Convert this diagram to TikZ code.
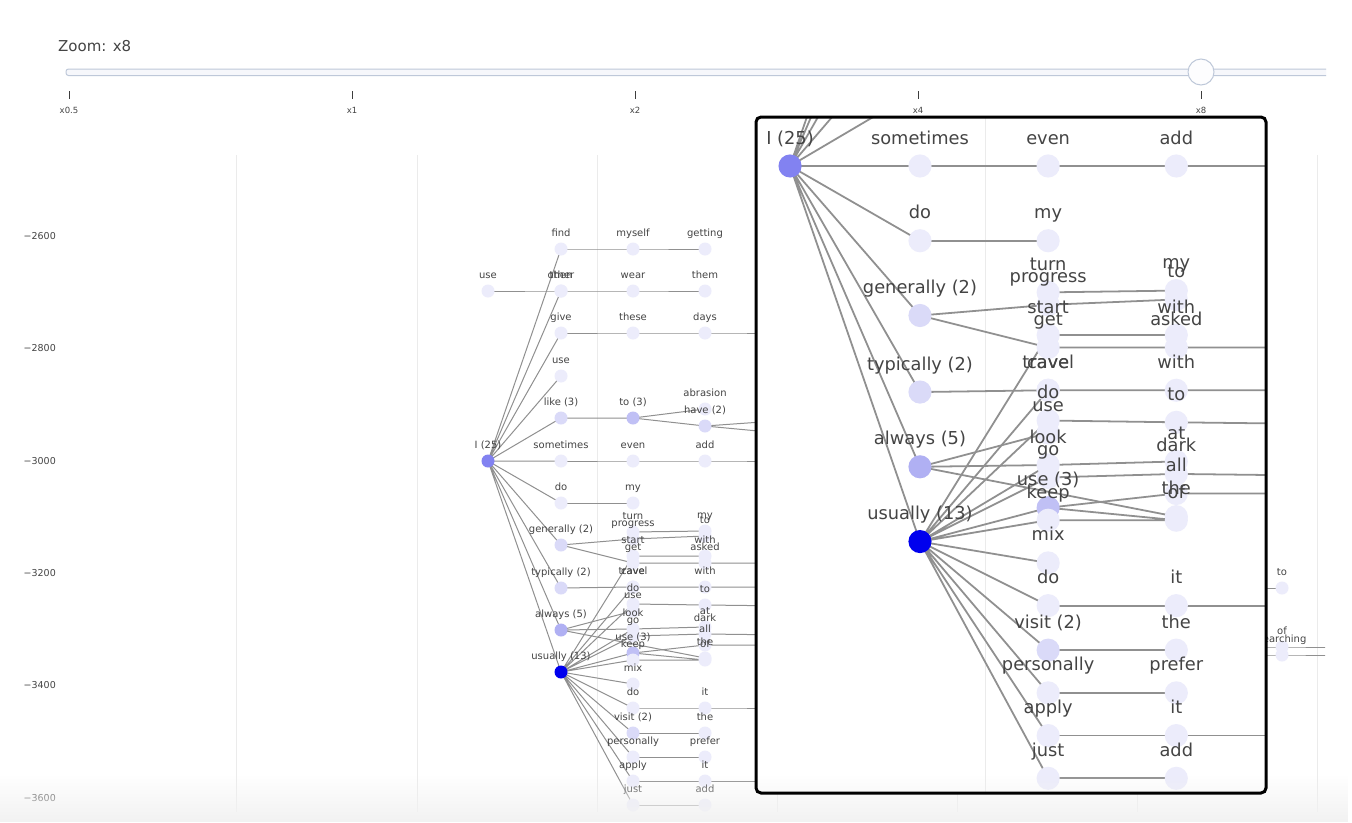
\documentclass[tikz,border=0pt]{standalone}
\usepackage{fontspec}
\setmainfont{DejaVu Sans}
\usetikzlibrary{fadings}
\definecolor{txt}{HTML}{444444}
\definecolor{edgec}{HTML}{909090}
\definecolor{gridc}{HTML}{EBEBEB}
\definecolor{cA}{HTML}{ECECFB}
\definecolor{cB}{HTML}{DADAF8}
\definecolor{cC}{HTML}{C0C0F5}
\definecolor{cD}{HTML}{B0B0F3}
\definecolor{cI}{HTML}{8282F1}
\definecolor{cU}{HTML}{0000EE}
\definecolor{track}{HTML}{BEC8D9}
\definecolor{trackfill}{HTML}{F6F7FB}
\tikzset{
  gdot/.style={circle, minimum size=13pt, inner sep=0pt, draw=none},
  glbl/.style={font=\fontsize{10}{12}\selectfont, text=txt, inner sep=0pt, text height=7.5pt, text depth=2.2pt},
  gedge/.style={draw=edgec, line width=1pt},
  gridline/.style={draw=gridc, line width=1pt},
  ylbl/.style={font=\fontsize{9.5}{11}\selectfont, text=txt, inner sep=0pt, anchor=east},
  ticklbl/.style={font=\fontsize{8.5}{10}\selectfont, text=txt, inner sep=0pt},
  tickmark/.style={draw=txt!90!black, line width=0.9pt}
}
\newcommand\NL{%
 \G{find}{561}{249}{cA}{find}
 \G{myself}{633}{249}{cA}{myself}
 \G{getting}{705}{249}{cA}{getting}
 \G{usezero}{488}{291}{cA}{use}
 \G{other}{561}{291}{cA}{other}
 \G{then}{561}{291}{cA}{then}
 \G{wear}{633}{291}{cA}{wear}
 \G{them}{705}{291}{cA}{them}
 \G{give}{561}{333}{cA}{give}
 \G{these}{633}{333}{cA}{these}
 \G{days}{705}{333}{cA}{days}
 \G{useone}{561}{376}{cA}{use}
 \G{like}{561}{418}{cB}{like (3)}
 \G{tothree}{633}{418}{cC}{to (3)}
 \G{abrasion}{705}{409}{cA}{abrasion}
 \G{have}{705}{426}{cB}{have (2)}
 \G{root}{488}{461}{cI}{I (25)}
 \G{sometimes}{561}{461}{cA}{sometimes}
 \G{even}{633}{461}{cA}{even}
 \G{adda}{705}{461}{cA}{add}
 \G{doa}{561}{503}{cA}{do}
 \G{mya}{633}{503}{cA}{my}
 \G{generally}{561}{545}{cB}{generally (2)}
 \G{typically}{561}{588}{cB}{typically (2)}
 \G{always}{561}{630}{cD}{always (5)}
 \G{usually}{561}{672}{cU}{usually (13)}
 \G{turn}{633}{532}{cA}{turn}
 \G{progress}{633}{539}{cA}{progress}
 \G{start}{633}{556}{cA}{start}
 \G{get}{633}{563}{cA}{get}
 \G{travel}{633}{587}{cA}{travel}
 \G{cave}{633}{587}{cA}{cave}
 \G{dob}{633}{604}{cA}{do}
 \G{useb}{633}{611}{cA}{use}
 \G{look}{633}{629}{cA}{look}
 \G{go}{633}{636}{cA}{go}
 \G{usec}{633}{653}{cC}{use (3)}
 \G{keep}{633}{660}{cA}{keep}
 \G{mix}{633}{684}{cA}{mix}
 \G{doc}{633}{708}{cA}{do}
 \G{visit}{633}{733}{cB}{visit (2)}
 \G{personally}{633}{757}{cA}{personally}
 \G{apply}{633}{781}{cA}{apply}
 \G{just}{633}{805}{cA}{just}
 \G{myb}{705}{531}{cA}{my}
 \G{tob}{705}{536}{cA}{to}
 \G{witha}{705}{556}{cA}{with}
 \G{asked}{705}{563}{cA}{asked}
 \G{withb}{705}{587}{cA}{with}
 \G{toc}{705}{605}{cA}{to}
 \G{atx}{705}{627}{cA}{at}
 \G{dark}{705}{634}{cA}{dark}
 \G{allx}{705}{645}{cA}{all}
 \G{thea}{705}{658}{cA}{the}
 \G{ofa}{705}{660}{cA}{of}
 \G{ita}{705}{708}{cA}{it}
 \G{theb}{705}{733}{cA}{the}
 \G{prefer}{705}{757}{cA}{prefer}
 \G{itb}{705}{781}{cA}{it}
 \G{addb}{705}{805}{cA}{add}
 \G{tod}{1282}{588}{cA}{to}
 \G{ofb}{1282}{647}{cA}{of}
 \G{searching}{1282}{655}{cA}{searching}
}
\newcommand\BC{%
 \coordinate (x-days) at (790,333);
 \coordinate (x-have1) at (790,420);
 \coordinate (x-have2) at (790,434);
 \coordinate (x-add) at (790,461);
 \coordinate (x-asked) at (790,563);
 \coordinate (x-withb) at (790,587);
 \coordinate (x-toc) at (790,606);
 \coordinate (x-dark) at (790,635);
 \coordinate (x-all) at (790,645);
 \coordinate (x-it) at (790,708);
 \coordinate (x-itb) at (790,781);
 \coordinate (h-to) at (1220,588);
 \coordinate (h-of) at (1220,647);
 \coordinate (h-se) at (1220,655);
 \coordinate (r-of) at (1330,647);
 \coordinate (r-se) at (1330,655);
}
\newcommand\drawgraph{%
 \def\G##1##2##3##4##5{\coordinate (##1) at (##2,##3);}%
 \NL\BC
 \draw[gedge] (root)--(find) (root)--(other) (root)--(then) (root)--(give)
   (root)--(useone) (root)--(like) (root)--(sometimes) (root)--(doa)
   (root)--(generally) (root)--(typically) (root)--(always) (root)--(usually);
 \draw[gedge] (find)--(myself)--(getting);
 \draw[gedge] (usezero)--(then)--(wear)--(them);
 \draw[gedge] (give)--(these)--(days)--(x-days);
 \draw[gedge] (like)--(tothree) (tothree)--(abrasion) (tothree)--(have)
   (have)--(x-have1) (have)--(x-have2);
 \draw[gedge] (sometimes)--(even)--(adda)--(x-add);
 \draw[gedge] (doa)--(mya);
 \draw[gedge] (generally)--(progress) (generally)--(get);
 \draw[gedge] (turn)--(myb) (progress)--(tob) (start)--(witha) (get)--(asked)--(x-asked);
 \draw[gedge] (typically)--(travel)--(withb)--(x-withb);
 \draw[gedge] (dob)--(toc)--(x-toc);
 \draw[gedge] (always)--(useb) (always)--(look)--(atx) (always)--(thea);
 \draw[gedge] (go)--(dark)--(x-dark);
 \draw[gedge] (usec)--(allx)--(x-all) (usec)--(ofa) (keep)--(ofa);
 \draw[gedge] (usually)--(start) (usually)--(cave) (usually)--(dob) (usually)--(look)
   (usually)--(go) (usually)--(usec) (usually)--(keep) (usually)--(mix)
   (usually)--(doc) (usually)--(visit) (usually)--(personally) (usually)--(apply)
   (usually)--(just);
 \draw[gedge] (doc)--(ita)--(x-it);
 \draw[gedge] (visit)--(theb) (personally)--(prefer) (apply)--(itb)--(x-itb) (just)--(addb);
 \draw[gedge] (h-to)--(tod) (h-of)--(ofb)--(r-of) (h-se)--(searching)--(r-se);
 \def\G##1##2##3##4##5{\node[gdot,fill=##4] (##1-n) at (##1) {};\node[glbl] (##1-t) at ([yshift=15pt]##1) {##5};}%
 \NL
}
\begin{document}
\begin{tikzpicture}[x=1pt,y=-1pt]
\useasboundingbox (0,0) rectangle (1352,822);
\fill[white] (0,0) rectangle (1352,822);
% slider
\node[anchor=base west, font=\fontsize{15}{18}\selectfont, text=txt, inner sep=0pt] (zoomlbl) at (58,51) {Zoom: x8};
\begin{scope}
\clip (0,0) rectangle (1326,822);
\draw[draw=track, fill=trackfill, line width=1pt, rounded corners=2.5pt] (66,69) rectangle (1370,75.5);
\end{scope}
\node[circle, draw=track, fill=white!97!track, line width=1pt, minimum size=26pt, inner sep=0pt] (handle) at (1201,72) {};
\foreach \xx/\tt [count=\k] in {69/x0.5, 352/x1, 635/x2, 918/x4, 1201/x8} {
  \draw[tickmark] (\xx,91) -- (\xx,99);
  \node[ticklbl] (tick\k) at (\xx,110) {\tt};
}
% axis labels
\node[ylbl] (ya) at (56,236) {−2600};
\node[ylbl] (yb) at (56,348) {−2800};
\node[ylbl] (yc) at (56,461) {−3000};
\node[ylbl] (yd) at (56,573) {−3200};
\node[ylbl] (ye) at (56,685) {−3400};
\node[ylbl] (yf) at (56,798) {−3600};
% grid
\foreach \gx in {236,417,597,777,957,1137,1317} \draw[gridline] (\gx,155) -- (\gx,812);
% main graph
\begin{scope}
\clip (60,155) rectangle (1325,812);
\drawgraph
\end{scope}
% inset
\begin{scope}
\clip[rounded corners=5pt] (756,117) rectangle (1266,793);
\fill[white] (756,117) rectangle (1266,793);
\draw[gridline] (985,117) -- (985,793);
\begin{scope}[transform canvas={shift={(-78.6,-654.6)},scale=1.78}, name prefix=z-]
\drawgraph
\end{scope}
\end{scope}
% bottom shadow
\fill[black!5, path fading=north] (0,775) rectangle (1352,822);
\draw[line width=3pt, rounded corners=5pt] (756,117) rectangle (1266,793);
\end{tikzpicture}
\end{document}
